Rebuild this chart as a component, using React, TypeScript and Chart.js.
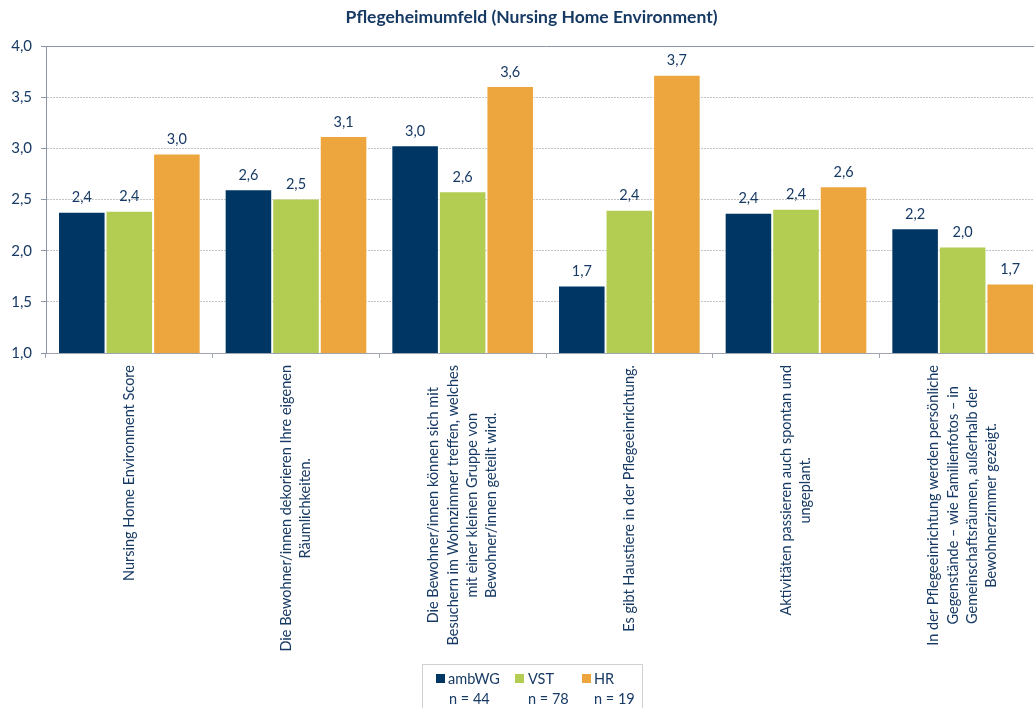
import React, { useEffect, useRef } from "react";
import { Chart, registerables } from "chart.js";

Chart.register(...registerables);

const TITLE = "Pflegeheimumfeld (Nursing Home Environment)";

const categories: string[][] = [
  ["Nursing Home Environment Score"],
  ["Die Bewohner/innen dekorieren Ihre eigenen", "Räumlichkeiten."],
  [
    "Die Bewohner/innen können sich mit",
    "Besuchern im Wohnzimmer treffen, welches",
    "mit einer kleinen Gruppe von",
    "Bewohner/innen geteilt wird.",
  ],
  ["Es gibt Haustiere in der Pflegeeinrichtung."],
  ["Aktivitäten passieren auch spontan und", "ungeplant."],
  [
    "In der Pflegeeinrichtung werden persönliche",
    "Gegenstände – wie Familienfotos – in",
    "Gemeinschaftsräumen, außerhalb der",
    "Bewohnerzimmer gezeigt.",
  ],
];

const seriesNames = ["ambWG", "VST", "HR"];
const seriesN = ["n = 44", "n = 78", "n = 19"];
const seriesColors = ["#003663", "#B3CC52", "#EDA63D"];

const ambWG = [2.38, 2.6, 3.03, 1.66, 2.37, 2.22];
const VST = [2.39, 2.51, 2.58, 2.4, 2.41, 2.04];
const HR = [2.95, 3.12, 3.61, 3.72, 2.63, 1.68];

const Y_MIN = 1;
const Y_MAX = 4;
const Y_STEP = 0.5;

const TEXT = "#173A64";
const FONT = "Lato";

const fmt = (v: number) => v.toFixed(1).replace(".", ",");

const customText = {
  id: "customText",
  afterDraw(chart: any) {
    const ctx = chart.ctx;
    const area = chart.chartArea;
    ctx.save();
    // title
    ctx.fillStyle = TEXT;
    ctx.font = `bold 17.5px ${FONT}`;
    ctx.textAlign = "center";
    ctx.textBaseline = "middle";
    ctx.fillText(TITLE, 531.5, 17);

    // data labels
    ctx.font = `14.5px ${FONT}`;
    chart.data.datasets.forEach((ds: any, di: number) => {
      const meta = chart.getDatasetMeta(di);
      meta.data.forEach((el: any, i: number) => {
        ctx.fillText(fmt(ds.data[i]), el.x, el.y - 14);
      });
    });

    // x labels (rotated, lines centred within block)
    const xs = chart.scales.x;
    ctx.font = `14.5px ${FONT}`;
    const top = area.bottom + 12;
    const lh = 19.3;
    categories.forEach((lines, i) => {
      const xc = xs.getPixelForValue(i);
      const maxW = Math.max(...lines.map((l) => ctx.measureText(l).width));
      lines.forEach((line, li) => {
        const x = xc + (li - (lines.length - 1) / 2) * lh;
        ctx.save();
        ctx.translate(x, top);
        ctx.rotate(-Math.PI / 2);
        ctx.textAlign = "center";
        ctx.textBaseline = "middle";
        ctx.fillText(line, -maxW / 2, 0);
        ctx.restore();
      });
    });

    // legend
    ctx.strokeStyle = "#D0D0D0";
    ctx.lineWidth = 1;
    ctx.strokeRect(422.5, 664.5, 220, 50);
    const sqX = [436, 515, 582];
    const txX = [448, 528, 594];
    ctx.textAlign = "left";
    ctx.textBaseline = "middle";
    ctx.font = `14.5px ${FONT}`;
    seriesNames.forEach((name, i) => {
      ctx.fillStyle = seriesColors[i];
      ctx.fillRect(sqX[i], 674, 9, 9);
      ctx.fillStyle = TEXT;
      ctx.fillText(name, txX[i], 679);
      ctx.fillText(seriesN[i], txX[i] + (i === 0 ? 1 : 0), 699);
    });
    ctx.restore();
  },
};

export default function App() {
  const ref = useRef<HTMLCanvasElement | null>(null);

  useEffect(() => {
    if (!ref.current) return;
    const datasets = [ambWG, VST, HR].map((d, i) => ({
      label: seriesNames[i],
      data: d,
      backgroundColor: seriesColors[i],
      borderColor: "rgba(255,255,255,0.55)",
      borderWidth: 1,
      categoryPercentage: 0.856,
      barPercentage: 1,
    }));
    const chart = new Chart(ref.current, {
      type: "bar",
      data: { labels: categories.map((c) => c.join(" ")), datasets },
      options: {
        responsive: false,
        animation: false,
        devicePixelRatio: 1,
        layout: { padding: { top: 46, right: 10, left: 0, bottom: 0 } },
        plugins: {
          legend: { display: false },
          title: { display: false },
          tooltip: { enabled: false },
        },
        scales: {
          x: {
            afterFit: (s: any) => {
              s.height = 355;
            },
            ticks: { display: false },
            grid: {
              offset: true,
              drawOnChartArea: false,
              drawTicks: true,
              tickLength: 5,
              tickColor: "#A0A4AE",
            },
            border: { color: "#A0A4AE", width: 1 },
          },
          y: {
            min: Y_MIN,
            max: Y_MAX,
            afterFit: (s: any) => {
              s.width = 46;
            },
            ticks: {
              stepSize: Y_STEP,
              color: TEXT,
              font: { family: FONT, size: 15 },
              padding: 9,
              callback: (v: any) => fmt(Number(v)),
            },
            grid: {
              drawTicks: true,
              tickLength: 5,
              tickColor: "#8C96AB",
              tickBorderDash: [],
              color: (c: any) =>
                c.tick && c.tick.value === Y_MAX
                  ? "#8C96AB"
                  : c.tick && c.tick.value === Y_MIN
                  ? "rgba(0,0,0,0)"
                  : "#C4C4C4",
            },
            border: {
              color: "#8C96AB",
              width: 1,
              dash: (c: any) => (c.tick && c.tick.value === Y_MAX ? [] : [2, 1]),
            },
          },
        },
      },
      plugins: [customText],
    } as any);
    return () => chart.destroy();
  }, []);

  return (
    <div
      style={{
        position: "fixed",
        left: 0,
        top: 0,
        width: 1034,
        height: 708,
        overflow: "hidden",
        background: "#fff",
      }}
    >
      <canvas ref={ref} width={1056} height={708} style={{ width: 1056, height: 708, display: "block" }} />
    </div>
  );
}
